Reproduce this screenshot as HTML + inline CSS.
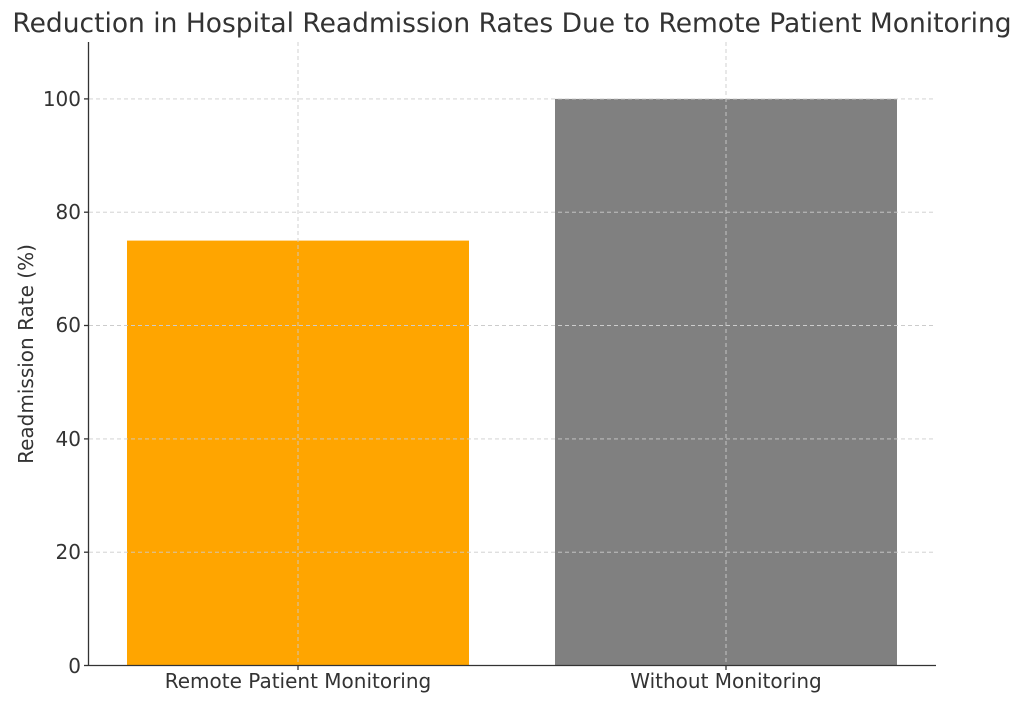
<!DOCTYPE html>
<html><head><style>body{margin:0;background:#fff}svg{display:block}</style></head><body>
<svg width="1024" height="703" xmlns="http://www.w3.org/2000/svg" font-family="DejaVu Sans, Liberation Sans, sans-serif" fill="#333">
<text x="512" y="32" font-size="26.5" text-anchor="middle" fill="#333">Reduction in Hospital Readmission Rates Due to Remote Patient Monitoring</text>
<rect x="127" y="240.6" width="342" height="424.9" fill="#ffa500"/>
<rect x="555" y="98.9" width="342" height="566.6" fill="#808080"/>
<g stroke="#ccc" stroke-dasharray="4,3" stroke-width="0.9">
<line x1="89" x2="936" y1="98.9" y2="98.9"/><line x1="89" x2="936" y1="212.2" y2="212.2"/>
<line x1="89" x2="936" y1="325.5" y2="325.5"/><line x1="89" x2="936" y1="438.9" y2="438.9"/>
<line x1="89" x2="936" y1="552.2" y2="552.2"/>
<line x1="298" x2="298" y1="42" y2="665"/><line x1="726" x2="726" y1="42" y2="665"/>
</g>
<g stroke="#333" stroke-width="1.3"><line x1="88.5" y1="42" x2="88.5" y2="666"/><line x1="88" y1="665.5" x2="936" y2="665.5"/>
<line x1="84" x2="88" y1="98.9" y2="98.9"/><line x1="84" x2="88" y1="212.2" y2="212.2"/><line x1="84" x2="88" y1="325.5" y2="325.5"/><line x1="84" x2="88" y1="438.9" y2="438.9"/><line x1="84" x2="88" y1="552.2" y2="552.2"/><line x1="84" x2="88" y1="665.5" y2="665.5"/>
<line x1="298" x2="298" y1="665" y2="670"/><line x1="726" x2="726" y1="665" y2="670"/></g>
<g font-size="20" text-anchor="end">
<text x="81" y="106">100</text><text x="81" y="219">80</text><text x="81" y="332">60</text><text x="81" y="446">40</text><text x="81" y="559">20</text><text x="81" y="673">0</text></g>
<g font-size="20" text-anchor="middle"><text x="298" y="688">Remote Patient Monitoring</text><text x="726" y="688">Without Monitoring</text></g>
<text transform="translate(33,354) rotate(-90)" font-size="20" text-anchor="middle">Readmission Rate (%)</text>
</svg></body></html>
